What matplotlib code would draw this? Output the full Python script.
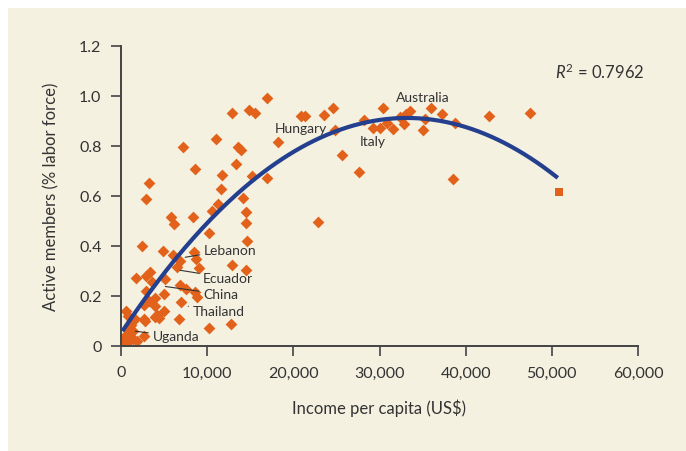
import numpy as np
import matplotlib
matplotlib.use("Agg")
import matplotlib.pyplot as plt
from matplotlib.patches import Rectangle

plt.rcParams['font.family'] = ['Lato', 'DejaVu Sans']
plt.rcParams['mathtext.fontset'] = 'custom'
plt.rcParams['mathtext.rm'] = 'Lato'
plt.rcParams['mathtext.it'] = 'Lato:italic'

# revenu par habitant (US$) et membres actifs (% population active)
income = [47500, 42700, 38800, 38500, 37300, 35950, 35250, 35100, 33500, 33050,
          32800, 32350, 31550, 30900, 30050, 29250, 30450, 28200, 27600, 25700,
          24800, 24550, 23550, 21400, 20850, 18250, 22900, 16900, 15600, 14800,
          12850, 11050, 7250, 13550, 13900, 13300, 8600, 11700, 15250, 16900,
          11650, 3300, 2950, 14200, 11250, 10550, 14450, 5800, 8300, 6200,
          14450, 10200, 14600,
          2450, 4850, 6050, 8450, 8650, 6850, 9100, 6500, 12900, 14500,
          1750, 2950, 3400, 5050, 3600, 6850, 7550, 8600, 8800, 2950,
          4950, 3900, 7000, 3300, 2650, 4950, 3900, 4200, 4400, 3950,
          6700, 10200, 12750, 600, 800, 1650, 2650, 2800, 1200, 1450,
          700, 500, 900, 1350, 1850, 2650, 300, 1100]
active = [0.933, 0.922, 0.892, 0.669, 0.930, 0.953, 0.909, 0.866, 0.939, 0.930,
          0.890, 0.917, 0.870, 0.894, 0.874, 0.874, 0.953, 0.903, 0.696, 0.764,
          0.863, 0.953, 0.926, 0.921, 0.921, 0.816, 0.496, 0.993, 0.934, 0.946,
          0.934, 0.830, 0.796, 0.796, 0.786, 0.729, 0.709, 0.685, 0.680, 0.672,
          0.629, 0.653, 0.589, 0.592, 0.569, 0.542, 0.538, 0.516, 0.518, 0.489,
          0.492, 0.452, 0.422,
          0.402, 0.380, 0.366, 0.378, 0.349, 0.340, 0.313, 0.315, 0.326, 0.306,
          0.273, 0.282, 0.295, 0.269, 0.255, 0.246, 0.228, 0.215, 0.195, 0.222,
          0.208, 0.192, 0.175, 0.182, 0.166, 0.141, 0.162, 0.124, 0.111, 0.115,
          0.108, 0.071, 0.088, 0.141, 0.121, 0.108, 0.108, 0.101, 0.084, 0.061,
          0.068, 0.041, 0.021, 0.028, 0.021, 0.041, 0.015, 0.041]

# le point carré (hors ajustement)
outlier_x = [50800]
outlier_y = [0.618]

# courbe de tendance polynomiale (ordre 2) et son R²
fit_coef = [-7.82e-10, 5.19e-5, 0.051]
fit_range = [300, 50500]
r2 = 0.7962

# pays annotés : (nom, position du texte, début du trait ou None)
labels = [("Hungary", 17870, 0.873, None),
          ("Italy", 27730, 0.820, None),
          ("Australia", 31870, 0.994, None),
          ("Lebanon", 9630, 0.385, (7450, 0.355)),
          ("Ecuador", 9510, 0.272, (6850, 0.303)),
          ("China", 9510, 0.207, (5150, 0.238)),
          ("Thailand", 8300, 0.140, (7800, 0.159)),
          ("Uganda", 3650, 0.039, (1650, 0.059))]

bg = '#F4F1E1'
orange = '#E2621B'
blue = '#243F8E'
dark = '#333333'

fig = plt.figure(figsize=(6.86, 4.52), dpi=100, facecolor='white')
fig.patches.append(Rectangle((8 / 686, 0), 1, 1 - 9 / 452, transform=fig.transFigure,
                             facecolor=bg, edgecolor='none', zorder=-10))
ax = fig.add_axes([121 / 686, 105 / 452, 517 / 686, 300 / 452])
ax.set_facecolor('none')

ax.scatter(income, active, marker='D', s=36, color=orange, linewidths=0, zorder=2)
ax.scatter(outlier_x, outlier_y, marker='s', s=34, color=orange, linewidths=0, zorder=2)

xs = np.linspace(fit_range[0], fit_range[1], 200)
ax.plot(xs, np.polyval(fit_coef, xs), color=blue, lw=3, zorder=3)

for name, tx, ty, start in labels:
    if start is None:
        ax.text(tx, ty, name, fontsize=10, color=dark, ha='left', va='center', zorder=4)
    else:
        ax.annotate(name, xy=start, xytext=(tx, ty), fontsize=10, color=dark,
                    ha='left', va='center', zorder=4,
                    arrowprops=dict(arrowstyle='-', color=dark, lw=0.8,
                                    shrinkA=1, shrinkB=0))

ax.text(50350, 1.098, r'$R^2$ = ' + f'{r2}', fontsize=12, color=dark, ha='left', va='center')

ax.set_xlim(0, 60000)
ax.set_ylim(0, 1.2)
ax.set_xticks(range(0, 60001, 10000))
ax.set_xticklabels([f'{v:,}' for v in range(0, 60001, 10000)])
ax.set_yticks(np.arange(0, 1.21, 0.2))
ax.set_yticklabels(['0', '0.2', '0.4', '0.6', '0.8', '1.0', '1.2'])

for s in ['top', 'right']:
    ax.spines[s].set_visible(False)
for s in ['left', 'bottom']:
    ax.spines[s].set_color('#444444')
    ax.spines[s].set_linewidth(1.4)
ax.tick_params(direction='out', length=7, width=1.2, color='#444444',
               labelsize=11.5, labelcolor=dark, pad=7)

ax.set_xlabel('Income per capita (US$)', fontsize=12, color=dark, labelpad=14)
ax.set_ylabel('Active members (% labor force)', fontsize=12, color=dark, labelpad=14)

fig.savefig('out.png', dpi=100, facecolor='white')
